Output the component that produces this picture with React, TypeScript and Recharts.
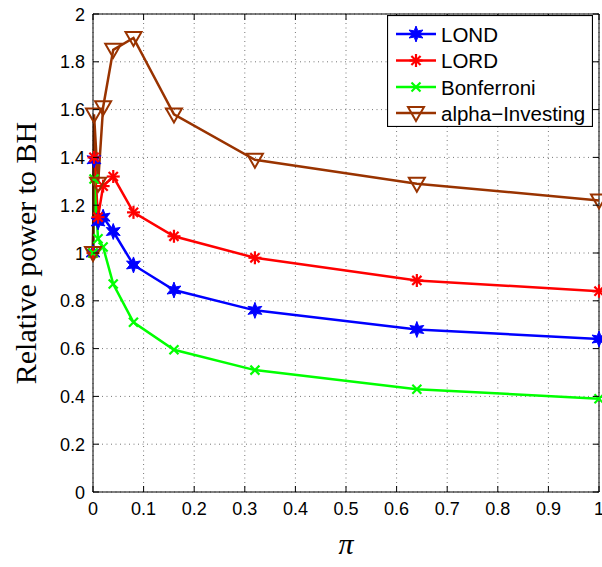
import { LineChart, Line, XAxis, YAxis, CartesianGrid, Legend, ReferenceLine } from 'recharts';

const piValues = [0, 0.002, 0.01, 0.02, 0.04, 0.08, 0.16, 0.32, 0.64, 1];
const lond = [1.0, 1.39, 1.13, 1.15, 1.09, 0.95, 0.845, 0.76, 0.68, 0.64];
const lord = [1.0, 1.4, 1.15, 1.28, 1.32, 1.17, 1.07, 0.98, 0.885, 0.84];
const bonferroni = [1.0, 1.31, 1.06, 1.025, 0.87, 0.71, 0.595, 0.51, 0.43, 0.39];
const alphaInvesting = [1.0, 1.58, 1.29, 1.61, 1.85, 1.9, 1.58, 1.39, 1.29, 1.22];

const xTicks = [0, 0.1, 0.2, 0.3, 0.4, 0.5, 0.6, 0.7, 0.8, 0.9, 1];
const yTicks = [0, 0.2, 0.4, 0.6, 0.8, 1, 1.2, 1.4, 1.6, 1.8, 2];

const data = piValues.map((pi, i) => ({
  pi,
  lond: lond[i],
  lord: lord[i],
  bonferroni: bonferroni[i],
  alpha: alphaInvesting[i],
}));

// plot box in page pixels
const PLOT = { left: 93, right: 599, top: 14, bottom: 492 };
const SANS = '"Liberation Sans", Arial, sans-serif';
const SERIF = '"Liberation Serif", "Times New Roman", serif';

const BLUE = '#0000ff';
const RED = '#ff0000';
const GREEN = '#00ff00';
const BROWN = '#993300';

const fmt = (v: number) => String(Math.round(v * 10) / 10);

function Hexagram({ cx, cy, r = 8 }: any) {
  const pts: string[] = [];
  for (let k = 0; k < 12; k++) {
    const a = (Math.PI / 6) * k - Math.PI / 2;
    const rad = k % 2 === 0 ? r : r * 0.45;
    pts.push(`${cx + rad * Math.cos(a)},${cy + rad * Math.sin(a)}`);
  }
  return <polygon points={pts.join(' ')} fill={BLUE} stroke={BLUE} strokeWidth={1} />;
}

function Asterisk({ cx, cy, r = 6.5 }: any) {
  const d = r * 0.707;
  return (
    <g stroke={RED} strokeWidth={2.2}>
      <line x1={cx - r} y1={cy} x2={cx + r} y2={cy} />
      <line x1={cx} y1={cy - r} x2={cx} y2={cy + r} />
      <line x1={cx - d} y1={cy - d} x2={cx + d} y2={cy + d} />
      <line x1={cx - d} y1={cy + d} x2={cx + d} y2={cy - d} />
    </g>
  );
}

function Cross({ cx, cy, r = 4.5 }: any) {
  return (
    <g stroke={GREEN} strokeWidth={2.2}>
      <line x1={cx - r} y1={cy - r} x2={cx + r} y2={cy + r} />
      <line x1={cx - r} y1={cy + r} x2={cx + r} y2={cy - r} />
    </g>
  );
}

function TriDown({ cx, cy, r = 8 }: any) {
  return (
    <polygon
      points={`${cx - r},${cy - r * 0.75} ${cx + r},${cy - r * 0.75} ${cx},${cy + r}`}
      fill="none"
      stroke={BROWN}
      strokeWidth={2}
    />
  );
}

const dotOf = (Shape: any) => (props: any) =>
  <Shape key={props.key ?? `${props.cx}-${props.cy}`} cx={props.cx} cy={props.cy} />;

const series = [
  { key: 'lond', name: 'LOND', color: BLUE, Shape: Hexagram },
  { key: 'lord', name: 'LORD', color: RED, Shape: Asterisk },
  { key: 'bonferroni', name: 'Bonferroni', color: GREEN, Shape: Cross },
  { key: 'alpha', name: 'alpha\u2212Investing', color: BROWN, Shape: TriDown },
];

function XTick({ x, payload }: any) {
  return (
    <g>
      <line x1={x} y1={PLOT.bottom} x2={x} y2={PLOT.bottom - 6} stroke="#000" />
      <line x1={x} y1={PLOT.top} x2={x} y2={PLOT.top + 6} stroke="#000" />
      <text x={x} y={PLOT.bottom + 23} textAnchor="middle" fontFamily={SANS} fontSize={18} fill="#000">
        {fmt(payload.value)}
      </text>
    </g>
  );
}

function YTick({ y, payload }: any) {
  return (
    <g>
      <line x1={PLOT.left} y1={y} x2={PLOT.left + 6} y2={y} stroke="#000" />
      <line x1={PLOT.right} y1={y} x2={PLOT.right - 6} y2={y} stroke="#000" />
      <text x={PLOT.left - 8} y={y + 6.5} textAnchor="end" fontFamily={SANS} fontSize={18} fill="#000">
        {fmt(payload.value)}
      </text>
    </g>
  );
}

function LegendBox() {
  const rows = [19, 45.5, 72, 98];
  return (
    <svg width={206} height={112} style={{ display: 'block' }}>
      <rect x={0.5} y={0.5} width={205} height={111} fill="#fff" stroke="#000" strokeWidth={1.2} />
      {series.map((s, i) => (
        <g key={s.key}>
          <line x1={9} y1={rows[i]} x2={49} y2={rows[i]} stroke={s.color} strokeWidth={2.5} />
          <s.Shape cx={29} cy={rows[i]} />
          <text x={54} y={rows[i] + 7.5} fontFamily={SANS} fontSize={20.5} fill="#000">
            {s.name}
          </text>
        </g>
      ))}
    </svg>
  );
}

export default function App() {
  return (
    <div style={{ position: 'absolute', left: 0, top: 0, width: 602, height: 567, background: '#fff' }}>
      <LineChart width={602} height={567} data={data} margin={{ top: 14, right: 3, left: 33, bottom: 45 }}>
        <CartesianGrid stroke="#777" strokeDasharray="1 3.5" />
        <XAxis
          dataKey="pi"
          type="number"
          domain={[0, 1]}
          ticks={xTicks}
          height={30}
          axisLine={{ stroke: '#000' }}
          tickLine={false}
          tick={<XTick />}
          interval={0}
          label={() => (
            <text
              x={(PLOT.left + PLOT.right) / 2}
              y={PLOT.bottom + 62}
              textAnchor="middle"
              fontFamily={SERIF}
              fontStyle="italic"
              fontSize={30}
              fill="#000"
            >
              π
            </text>
          )}
        />
        <YAxis
          type="number"
          domain={[0, 2]}
          ticks={yTicks}
          width={60}
          axisLine={{ stroke: '#000' }}
          tickLine={false}
          tick={<YTick />}
          interval={0}
          label={() => (
            <text
              x={25}
              y={(PLOT.top + PLOT.bottom) / 2}
              transform={`rotate(-90, 25, ${(PLOT.top + PLOT.bottom) / 2})`}
              textAnchor="middle"
              dominantBaseline="central"
              fontFamily={SERIF}
              fontSize={30}
              fill="#000"
            >
              Relative power to BH
            </text>
          )}
        />
        <ReferenceLine y={2} stroke="#000" />
        <ReferenceLine x={1} stroke="#000" />
        <Legend
          layout="horizontal"
          verticalAlign="middle"
          align="center"
          content={() => <LegendBox />}
          wrapperStyle={{ position: 'absolute', left: 387, top: 15, width: 206, height: 112 }}
        />
        {series.map((s) => (
          <Line
            key={s.key}
            type="linear"
            dataKey={s.key}
            name={s.name}
            stroke={s.color}
            strokeWidth={2.5}
            dot={dotOf(s.Shape)}
            activeDot={false}
            isAnimationActive={false}
          />
        ))}
      </LineChart>
    </div>
  );
}
